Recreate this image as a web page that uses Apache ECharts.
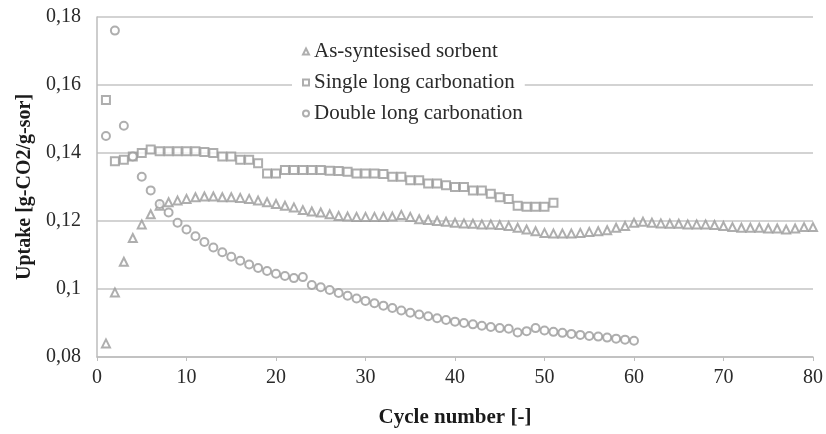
<!DOCTYPE html>
<html>
<head>
<meta charset="utf-8">
<script src="https://cdn.jsdelivr.net/npm/echarts@6/dist/echarts.min.js"></script>
<style>html,body{margin:0;padding:0;background:#fff}#c{width:826px;height:434px}</style>
</head>
<body>
<div id="c"></div>
<script>
var seriesNames = ['As-syntesised sorbent', 'Single long carbonation', 'Double long carbonation'];
var yTicks = [0.08, 0.10, 0.12, 0.14, 0.16, 0.18];
var xTicks = [0, 10, 20, 30, 40, 50, 60, 70, 80];

var asSynth = [0.084,0.099,0.108,0.115,0.119,0.122,0.1245,0.1255,0.126,0.1265,
  0.127,0.1272,0.1272,0.127,0.127,0.1268,0.1265,0.126,0.1255,0.125,
  0.1245,0.124,0.1232,0.1228,0.1225,0.122,0.1215,0.1213,0.1212,0.1212,
  0.1212,0.1212,0.1213,0.1218,0.1212,0.1205,0.1203,0.12,0.1198,0.1195,
  0.1193,0.1192,0.119,0.119,0.1188,0.1185,0.118,0.1175,0.117,0.1165,
  0.1163,0.1163,0.1163,0.1165,0.1168,0.117,0.1173,0.118,0.1185,0.1195,
  0.1198,0.1195,0.1193,0.1192,0.1192,0.119,0.119,0.119,0.1188,0.1185,
  0.1182,0.118,0.118,0.118,0.1178,0.1178,0.1175,0.1178,0.1182,0.1182];

var singleLong = [0.1556,0.1376,0.138,0.139,0.140,0.141,0.1405,0.1405,0.1405,0.1405,
  0.1405,0.1403,0.140,0.139,0.139,0.138,0.138,0.137,0.134,0.134,
  0.135,0.135,0.135,0.135,0.135,0.1348,0.1347,0.1345,0.134,0.134,
  0.134,0.1338,0.133,0.133,0.132,0.132,0.131,0.131,0.1305,0.130,
  0.130,0.129,0.129,0.128,0.127,0.1265,0.1245,0.1242,0.1242,0.1242,0.1254];

var doubleLong = [0.145,0.176,0.148,0.139,0.133,0.129,0.125,0.1225,0.1195,0.1175,
  0.1155,0.1138,0.1122,0.1108,0.1095,0.1083,0.1072,0.1062,0.1053,0.1045,
  0.1038,0.1032,0.1035,0.1012,0.1005,0.0997,0.0988,0.098,0.0972,0.0965,
  0.0958,0.0951,0.0944,0.0937,0.093,0.0925,0.092,0.0914,0.0909,0.0904,
  0.09,0.0896,0.0892,0.0888,0.0885,0.0883,0.0872,0.0876,0.0885,0.0878,
  0.0874,0.0871,0.0868,0.0865,0.0862,0.086,0.0857,0.0854,0.0851,0.0848];

function toPairs(arr){ return arr.map(function(v,i){ return [i+1, v]; }); }

var font = 'Liberation Serif';
var markColor = '#9a9a9a';
function mkSeries(name, data, symbol){
  return {
    name: name, type: 'scatter', data: toPairs(data),
    symbol: symbol, symbolSize: 8,
    itemStyle: { color: markColor, borderWidth: 1 },
    emphasis: { disabled: true }
  };
}

var chart = echarts.init(document.getElementById('c'), null, { renderer: 'canvas' });
chart.setOption({
  animation: false,
  backgroundColor: '#fff',
  grid: { left: 97, right: 12, top: 17, bottom: 77, containLabel: false },
  legend: {
    orient: 'vertical', left: 292, top: 33,
    backgroundColor: '#fff', padding: [8, 2, 8, 10],
    itemGap: 10, itemWidth: 6, itemHeight: 6,
    textStyle: { fontFamily: font, fontSize: 21, color: '#2a2a2a' },
    data: seriesNames
  },
  xAxis: {
    type: 'value', min: xTicks[0], max: xTicks[xTicks.length-1], interval: 10,
    name: 'Cycle number [-]', nameLocation: 'middle', nameGap: 50,
    nameTextStyle: { fontFamily: font, fontSize: 21, fontWeight: 'bold', color: '#1a1a1a' },
    axisLine: { show: true, lineStyle: { color: '#bdbdbd', width: 1.5 } },
    axisTick: { show: true, inside: false, length: 4, lineStyle: { color: '#bdbdbd' } },
    axisLabel: { fontFamily: font, fontSize: 20, color: '#2a2a2a', margin: 11 },
    splitLine: { show: false }
  },
  yAxis: {
    type: 'value', min: yTicks[0], max: yTicks[yTicks.length-1], interval: 0.02,
    name: 'Uptake [g-CO2/g-sor]', nameLocation: 'middle', nameGap: 58,
    nameTextStyle: { fontFamily: font, fontSize: 20, fontWeight: 'bold', color: '#1a1a1a' },
    axisLine: { show: true, lineStyle: { color: '#bdbdbd', width: 1.5 } },
    axisTick: { show: false },
    axisLabel: { fontFamily: font, fontSize: 20, color: '#2a2a2a', margin: 16,
      formatter: function(v){ return String(+v.toFixed(2)).replace('.', ','); } },
    splitLine: { show: true, lineStyle: { color: '#c4c4c4', width: 1.5 } }
  },
  series: [
    mkSeries(seriesNames[0], asSynth, 'emptyTriangle'),
    mkSeries(seriesNames[1], singleLong, 'emptyRect'),
    mkSeries(seriesNames[2], doubleLong, 'emptyCircle')
  ]
});
</script>
</body>
</html>
